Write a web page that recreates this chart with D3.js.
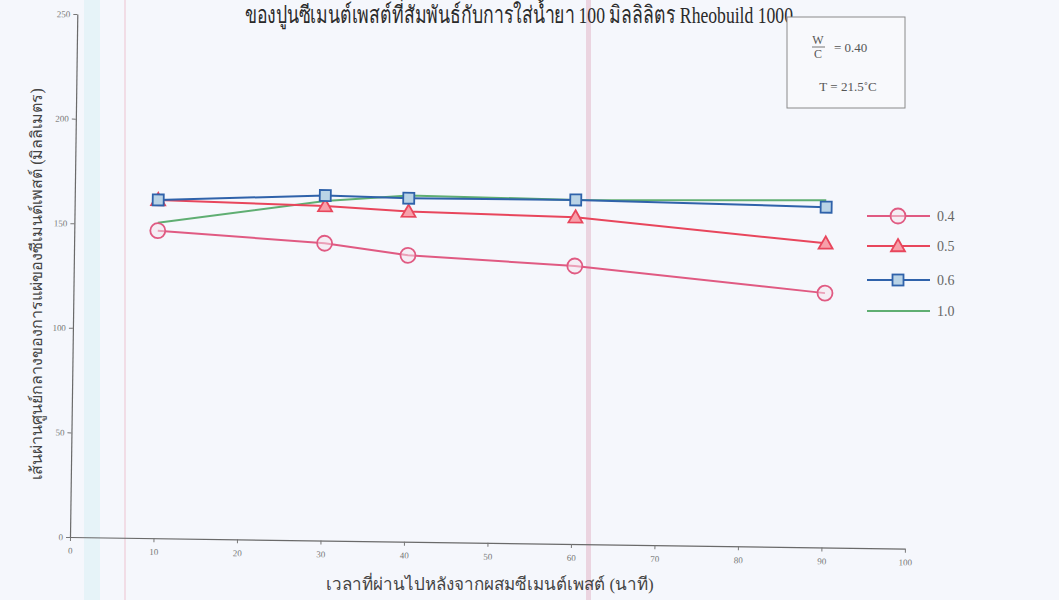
<!DOCTYPE html>
<html><head><meta charset="utf-8">
<script src="https://cdn.jsdelivr.net/npm/d3@7"></script>
<style>
html,body{margin:0;padding:0;background:#f4f6fb;}
svg{display:block;}
</style></head>
<body>
<svg id="c" width="1059" height="600"></svg>
<script>
// ---- data ----
const times = [10, 30, 40, 60, 90];
const series04 = [147.0, 142.1, 136.9, 132.9, 121.6];
const series05 = [161.7, 159.9, 157.8, 156.2, 145.4];
const series06 = [161.7, 164.9, 164.2, 164.5, 162.7];
const series10 = [150.8, 162.3, 165.5, 164.5, 166.0];
const seriesNames = ["0.4", "0.5", "0.6", "1.0"];
const xTicks = [0, 10, 20, 30, 40, 50, 60, 70, 80, 90, 100];
const yTicks = [0, 50, 100, 150, 200, 250];
const titleText = "ของปูนซีเมนต์เพสต์ที่สัมพันธ์กับการใส่น้ำยา 100 มิลลิลิตร Rheobuild 1000";
const xLabel = "เวลาที่ผ่านไปหลังจากผสมซีเมนต์เพสต์ (นาที)";
const yLabel = "เส้นผ่านศูนย์กลางของการแผ่ของซีเมนต์เพสต์ (มิลลิเมตร)";

const svg = d3.select("#c");
const W = 1059, H = 600;
const serif = "'Liberation Serif','DejaVu Serif','Noto Sans',serif";

// background + scan artefacts
svg.append("rect").attr("width", W).attr("height", H).attr("fill", "#f5f7fc");
svg.append("rect").attr("x", 84).attr("y", 0).attr("width", 16).attr("height", H).attr("fill", "#e6f3f8");
svg.append("rect").attr("x", 124).attr("y", 0).attr("width", 2).attr("height", H).attr("fill", "#f1dde6");
svg.append("rect").attr("x", 586).attr("y", 0).attr("width", 5).attr("height", H).attr("fill", "#e8cbd8").attr("opacity", 0.8);

const ox = 70, oy = 537;
const x = d3.scaleLinear().domain([0, 100]).range([ox, 905]);
const y = d3.scaleLinear().domain([0, 250]).range([oy, 14]);

const g = svg.append("g").attr("transform", `rotate(0.8, ${ox}, ${oy})`);

// axes
const xAxis = g.append("g").attr("transform", `translate(0,${oy})`)
  .call(d3.axisBottom(x).tickValues(xTicks).tickSize(4).tickSizeOuter(0));
const yAxis = g.append("g").attr("transform", `translate(${ox},0)`)
  .call(d3.axisLeft(y).tickValues(yTicks).tickSize(4).tickSizeOuter(0));
[xAxis, yAxis].forEach(a => {
  a.select(".domain").attr("stroke", "#6a6a6a").attr("stroke-width", 1.2);
  a.selectAll(".tick line").attr("stroke", "#777");
  a.selectAll(".tick text").attr("fill", "#777").attr("font-family", serif).attr("font-size", 9);
});
xAxis.selectAll(".tick text").attr("dy", "1.1em");

const colors = ["#e05a82", "#e8465c", "#2f62aa", "#5fae72"];
const allSeries = [series04, series05, series06, series10];
const line = d3.line().x((d, i) => x(times[i])).y(d => y(d));

// draw lines (green first at bottom)
[3, 0, 1, 2].forEach(k => {
  g.append("path").datum(allSeries[k]).attr("d", line)
    .attr("fill", "none").attr("stroke", colors[k]).attr("stroke-width", 2);
});

function marker(sel, k, cx, cy) {
  if (k === 0) {
    sel.append("circle").attr("cx", cx).attr("cy", cy).attr("r", 7.5)
      .attr("fill", "#f6e4ec").attr("fill-opacity", 0.5).attr("stroke", colors[0]).attr("stroke-width", 1.8);
  } else if (k === 1) {
    const s = 7;
    sel.append("path").attr("d", `M${cx},${cy - s}L${cx + s},${cy + s * 0.75}L${cx - s},${cy + s * 0.75}Z`)
      .attr("fill", "#f7a0aa").attr("stroke", colors[1]).attr("stroke-width", 1.8);
  } else if (k === 2) {
    const s = 5.5;
    sel.append("rect").attr("x", cx - s).attr("y", cy - s).attr("width", 2 * s).attr("height", 2 * s)
      .attr("fill", "#b9d3e6").attr("stroke", colors[2]).attr("stroke-width", 1.8);
  }
}
[0, 1, 2].forEach(k => {
  allSeries[k].forEach((v, i) => marker(g, k, x(times[i]), y(v)));
});

// title
svg.append("text").attr("x", 245).attr("y", 23)
  .attr("textLength", 548).attr("lengthAdjust", "spacingAndGlyphs")
  .attr("font-family", serif).attr("font-size", 24).attr("fill", "#2a2a2a").text(titleText);

// axis labels
svg.append("text").attr("x", 490).attr("y", 590).attr("text-anchor", "middle")
  .attr("font-family", serif).attr("font-size", 17).attr("fill", "#444").text(xLabel);
svg.append("text").attr("transform", "translate(42,284) rotate(-90)").attr("text-anchor", "middle")
  .attr("font-family", serif).attr("font-size", 16).attr("fill", "#444").text(yLabel);

// annotation box
const box = svg.append("g");
box.append("rect").attr("x", 787).attr("y", 17).attr("width", 118).attr("height", 91)
  .attr("fill", "#f8f9fc").attr("stroke", "#8a8a8a").attr("stroke-width", 1);
box.append("text").attr("x", 818).attr("y", 44).attr("text-anchor", "middle")
  .attr("font-family", serif).attr("font-size", 12).attr("fill", "#555").text("W");
box.append("line").attr("x1", 812).attr("x2", 825).attr("y1", 47).attr("y2", 47).attr("stroke", "#777");
box.append("text").attr("x", 818).attr("y", 58).attr("text-anchor", "middle")
  .attr("font-family", serif).attr("font-size", 12).attr("fill", "#555").text("C");
box.append("text").attr("x", 834).attr("y", 52)
  .attr("font-family", serif).attr("font-size", 13).attr("fill", "#555").text("=  0.40");
box.append("text").attr("x", 848).attr("y", 91).attr("text-anchor", "middle")
  .attr("font-family", serif).attr("font-size", 13).attr("fill", "#555").text("T = 21.5˚C");

// legend
const legY = [216, 246, 280, 311];
seriesNames.forEach((n, k) => {
  const lg = svg.append("g");
  lg.append("line").attr("x1", 867).attr("x2", 930).attr("y1", legY[k]).attr("y2", legY[k])
    .attr("stroke", colors[k]).attr("stroke-width", 1.8);
  marker(lg, k, 898, legY[k]);
  lg.append("text").attr("x", 937).attr("y", legY[k] + 5)
    .attr("font-family", serif).attr("font-size", 14).attr("fill", "#666").text(n);
});
</script>
</body></html>
